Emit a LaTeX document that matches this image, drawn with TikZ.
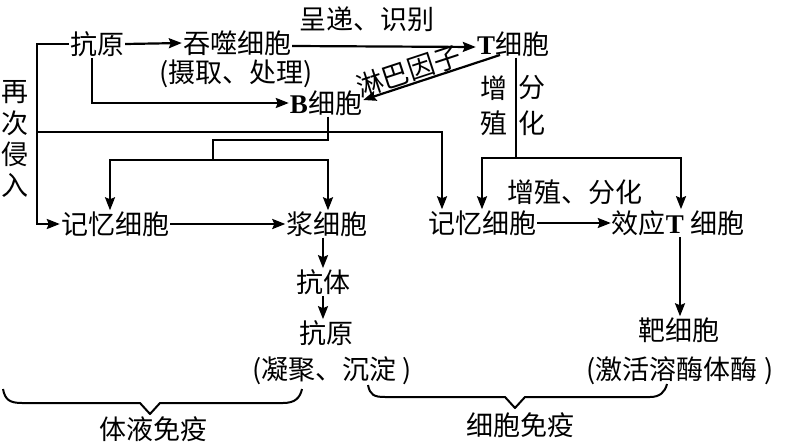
\documentclass[tikz,border=0pt]{standalone}
\usepackage{fontspec}
\setmainfont{Noto Sans CJK SC}
\newfontfamily\latf{Liberation Serif}
\usetikzlibrary{arrows.meta,calc}
\newcommand{\bL}[1]{{\latf\bfseries #1}}
\begin{document}
\begin{tikzpicture}[x=1pt,y=-1pt,
  every node/.style={inner sep=1pt,font=\fontsize{27}{31}\selectfont},
  conn/.style={line width=2.2pt},
  arr/.style={conn,-{Stealth[length=13pt,width=10pt,inset=2pt]}},
  brace/.style={line width=2pt,line join=round}]
\useasboundingbox (0,0) rectangle (785,444);

% nodes
\node (ag1) at (97,44) {抗原};
\node (phag) at (237,43) {吞噬细胞};
\node (phagsub) at (236,74) {(摄取、处理)};
\node (lbl1) at (367,19) {呈递、识别};
\node (Tc) at (513,44) {\bL{T}细胞};
\node (Bc) at (326,103) {\bL{B}细胞};
\node (re) at (15,92) {再};
\node (ci) at (15,123) {次};
\node (qin) at (15,154) {侵};
\node (ru) at (15,185) {入};
\node (zeng) at (494,88) {增};
\node (zhi) at (494,123) {殖};
\node (fen) at (532,88) {分};
\node (hua) at (532,123) {化};
\node (mem1) at (115,224) {记忆细胞};
\node (plasma) at (327,224) {浆细胞};
\node (ab) at (323,282) {抗体};
\node (ag2) at (326,333) {抗原};
\node (ag2sub) at (332,371) {(凝聚、沉淀 )};
\node (mem2) at (482,223) {记忆细胞};
\node (lbl2) at (575,192) {增殖、分化};
\node (eff) at (678,223) {效应\bL{T} 细胞};
\node (tgt) at (679,330) {靶细胞};
\node (tgtsub) at (680,371) {(激活溶酶体酶 )};
\node (humoral) at (153,429) {体液免疫};
\node (cellular) at (520,425) {细胞免疫};

% coordinates
\coordinate (L1) at (37,44);
\coordinate (L2) at (37,132);
\coordinate (lymS) at (500,55);
\coordinate (b1) at (213,140);
\coordinate (b2) at (213,160);
\coordinate (t1) at (516,158);

% connectors
\draw[arr] (ag1.east) -- (phag.west);
\draw[arr] ([yshift=-3pt]phag.east) -- ([yshift=-3pt]Tc.west);
\draw[arr] (lymS) -- ([yshift=3pt]Bc.east)
  node[pos=0.64,sloped,above=0pt,inner sep=0pt] {淋巴因子};
\draw[arr] ([xshift=-5pt]ag1.south) |- (Bc.west);
\draw[arr] (ag1.west) -- (L1) |- (mem1.west);
\draw[arr] (L2) -| ([xshift=-40pt]mem2.north);
\draw[conn] ([xshift=2pt]Bc.south) |- (b1) -- (b2);
\draw[arr] (b2) -| ([xshift=-5pt]mem1.north);
\draw[arr] (b2) -| ([xshift=1pt]plasma.north);
\draw[arr] (mem1.east) -- (plasma.west);
\draw[arr] (plasma.south -| ab.north) -- (ab.north);
\draw[arr] (ab.south) -- (ab.south |- ag2.north);
\draw[conn] ([xshift=3pt]Tc.south) -- (t1);
\draw[arr] (t1) -| (mem2.north);
\draw[arr] (t1) -| ([xshift=3pt]eff.north);
\draw[arr] (mem2.east) -- (eff.west);
\draw[arr] ([xshift=2pt]eff.south) -- ([xshift=2pt]eff.south |- tgt.north);

% braces
\draw[brace] (3,389) .. controls (5,400) and (10,403) .. (22,403)
  -- (140,403) -- (150,414) -- (160,403) -- (283,403)
  .. controls (295,403) and (300,398) .. (302,389);
\draw[brace] (368,385) .. controls (370,395) and (374,397) .. (385,397)
  -- (505,397) -- (515,408) -- (525,397) -- (650,397)
  .. controls (660,397) and (665,392) .. (667,384);
\end{tikzpicture}
\end{document}
